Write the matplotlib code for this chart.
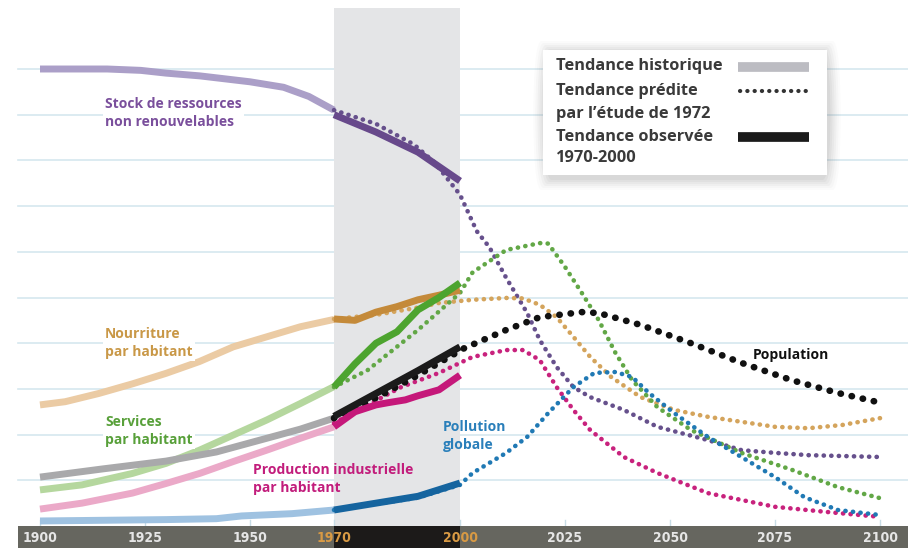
import matplotlib
matplotlib.use("Agg")
import matplotlib.pyplot as plt
from matplotlib.patches import Rectangle, FancyBboxPatch
import numpy as np

# ---------------- data ----------------
# Stock de ressources non renouvelables
res_hist_x = [1900, 1916, 1924, 1930, 1938, 1950, 1958, 1964, 1970]
res_hist_y = [10.0, 10.0, 9.97, 9.91, 9.85, 9.72, 9.60, 9.40, 9.10]
res_obs_x = [1970, 1980, 1990, 2000]
res_obs_y = [9.0, 8.62, 8.18, 7.55]
res_pred_x = [1970, 1980, 1989, 1994, 2000, 2004, 2007, 2011, 2016, 2019, 2023, 2027, 2031, 2039, 2047, 2059, 2067, 2075, 2083, 2100]
res_pred_y = [9.10, 8.80, 8.35, 7.95, 7.25, 6.45, 6.10, 5.43, 4.66, 4.07, 3.48, 3.04, 2.82, 2.54, 2.17, 1.88, 1.66, 1.60, 1.55, 1.51]

# Nourriture par habitant
food_hist_x = [1900, 1906, 1914, 1922, 1930, 1938, 1946, 1954, 1962, 1970]
food_hist_y = [2.65, 2.72, 2.90, 3.11, 3.34, 3.60, 3.92, 4.14, 4.36, 4.52]
food_obs_x = [1970, 1975, 1980, 1985, 1990, 1995, 2000]
food_obs_y = [4.53, 4.50, 4.68, 4.80, 4.95, 5.05, 5.16]
food_pred_x = [1970, 1980, 1990, 1995, 2003, 2011, 2015, 2019, 2023, 2027, 2031, 2036, 2043, 2051, 2059, 2075, 2083, 2091, 2100]
food_pred_y = [4.53, 4.62, 4.78, 4.88, 4.95, 4.99, 4.98, 4.84, 4.57, 4.14, 3.70, 3.26, 2.82, 2.54, 2.39, 2.17, 2.14, 2.21, 2.36]

# Services par habitant
serv_hist_x = [1900, 1910, 1922, 1930, 1938, 1946, 1954, 1962, 1970]
serv_hist_y = [0.79, 0.90, 1.15, 1.37, 1.66, 1.99, 2.32, 2.68, 3.05]
serv_obs_x = [1970, 1975, 1980, 1985, 1990, 1995, 2000]
serv_obs_y = [3.04, 3.55, 4.00, 4.25, 4.73, 5.00, 5.32]
serv_pred_x = [1970, 1978, 1990, 2000, 2003, 2011, 2019, 2021, 2025, 2029, 2033, 2037, 2041, 2047, 2055, 2067, 2079, 2090, 2100]
serv_pred_y = [3.04, 3.41, 4.29, 5.10, 5.55, 6.04, 6.19, 6.18, 5.67, 5.10, 4.51, 3.79, 3.19, 2.60, 2.10, 1.60, 1.23, 0.85, 0.61]

# Population
pop_hist_x = [1900, 1915, 1930, 1942, 1954, 1962, 1970]
pop_hist_y = [1.07, 1.25, 1.42, 1.62, 1.92, 2.12, 2.36]
pop_obs_x = [1970, 1980, 1990, 2000]
pop_obs_y = [2.40, 2.90, 3.40, 3.92]
pop_pred_x = [1970, 1980, 1990, 2001, 2011, 2019, 2029, 2033, 2043, 2055, 2067, 2079, 2090, 2100]
pop_pred_y = [2.36, 2.80, 3.30, 3.89, 4.29, 4.57, 4.68, 4.66, 4.40, 4.00, 3.57, 3.19, 2.91, 2.70]

# Production industrielle par habitant
ind_hist_x = [1900, 1910, 1922, 1930, 1938, 1946, 1954, 1962, 1970]
ind_hist_y = [0.37, 0.50, 0.72, 0.93, 1.15, 1.41, 1.66, 1.92, 2.17]
ind_obs_x = [1970, 1975, 1980, 1983, 1987, 1990, 1995, 2000]
ind_obs_y = [2.17, 2.50, 2.65, 2.70, 2.76, 2.85, 2.98, 3.30]
ind_pred_x = [1970, 1986, 1995, 2003, 2011, 2015, 2019, 2023, 2027, 2031, 2039, 2047, 2059, 2075, 2087, 2100]
ind_pred_y = [2.25, 3.04, 3.35, 3.70, 3.85, 3.85, 3.63, 3.04, 2.54, 2.10, 1.51, 1.16, 0.72, 0.42, 0.31, 0.20]

# Pollution globale
pol_hist_x = [1900, 1930, 1942, 1948, 1960, 1970]
pol_hist_y = [0.11, 0.14, 0.16, 0.22, 0.27, 0.35]
pol_obs_x = [1970, 1980, 1990, 2000]
pol_obs_y = [0.35, 0.50, 0.65, 0.94]
pol_pred_x = [1970, 1990, 2000, 2003, 2011, 2016, 2021, 2027, 2032, 2037, 2041, 2045, 2051, 2059, 2067, 2075, 2082, 2090, 2100]
pol_pred_y = [0.35, 0.62, 0.90, 1.16, 1.60, 1.95, 2.47, 3.04, 3.35, 3.37, 3.26, 2.91, 2.47, 1.95, 1.51, 1.07, 0.63, 0.35, 0.24]

tick_years = [1900, 1925, 1950, 1970, 2000, 2025, 2050, 2075, 2100]
grid_levels = [1, 2, 3, 4, 5, 6, 7, 8, 9, 10]

legend_labels = ["Tendance historique", "Tendance prédite", "par l\u2019étude de 1972",
                 "Tendance observée", "1970-2000"]

# ---------------- figure ----------------
W, H = 908, 548
fig = plt.figure(figsize=(W / 100, H / 100), dpi=100)
ax = fig.add_axes([0, 0, 1, 1])
px_per_year = 4.2
x0 = 1900 - 40 / px_per_year
x1 = 1900 + (W - 40) / px_per_year
ppu = 45.7
ax.set_xlim(x0, x1)
ax.set_ylim((526 - H) / ppu, 526 / ppu)
ax.axis("off")

def px2x(p):
    return x0 + p / px_per_year

def py2y(p):
    return (526 - p) / ppu

# gridlines
for g in grid_levels:
    ax.plot([px2x(18), x1], [g, g], color="#d6e8ef", lw=1.2, zorder=1)

# shaded observation period
ax.add_patch(Rectangle((1970, 0), 30, py2y(8) - 0, facecolor="#e4e5e7",
                       edgecolor="none", zorder=2))

# bottom axis bar
ybot = py2y(H)
ax.add_patch(Rectangle((px2x(18), ybot), x1 - px2x(18), 0 - ybot,
                       facecolor="#66665f", edgecolor="none", zorder=5))
ax.add_patch(Rectangle((1970, ybot), 30, 0 - ybot,
                       facecolor="#1c1a19", edgecolor="none", zorder=6))
for yr in tick_years:
    col = "#d99a44" if yr in (1970, 2000) else "#e6e6e6"
    ax.text(yr, py2y(538), str(yr), ha="center", va="center", color=col,
            fontsize=10, fontweight="bold", family="DejaVu Sans",
            fontstretch="condensed", zorder=7)
    ax.plot([yr, yr], [0, py2y(520)], color="#c9dde6", lw=1, zorder=3)

def hist(x, y, c):
    ax.plot(x, y, color=c, lw=5, solid_capstyle="butt", solid_joinstyle="round", zorder=3)

def obs(x, y, c):
    ax.plot(x, y, color=c, lw=5, solid_capstyle="butt", solid_joinstyle="round", zorder=5)

def pred(x, y, c, lw=3.3, gap=1.6, z=4):
    ax.plot(x, y, color=c, lw=lw, linestyle=(0, (0.05, gap)),
            dash_capstyle="round", zorder=z)

series = [
    (res_hist_x, res_hist_y, "#ab9fc8", res_obs_x, res_obs_y, "#67498b", res_pred_x, res_pred_y, "#66508c"),
    (food_hist_x, food_hist_y, "#ebcba4", food_obs_x, food_obs_y, "#c48a3a", food_pred_x, food_pred_y, "#d4a45c"),
    (serv_hist_x, serv_hist_y, "#b5d79e", serv_obs_x, serv_obs_y, "#4da42f", serv_pred_x, serv_pred_y, "#62a746"),
    (ind_hist_x, ind_hist_y, "#eba9c8", ind_obs_x, ind_obs_y, "#c5187a", ind_pred_x, ind_pred_y, "#c8227d"),
    (pol_hist_x, pol_hist_y, "#9fc2e1", pol_obs_x, pol_obs_y, "#15649f", pol_pred_x, pol_pred_y, "#2079b4"),
    (pop_hist_x, pop_hist_y, "#a9a9ab", pop_obs_x, pop_obs_y, "#1b1b1b", pop_pred_x, pop_pred_y, "#111111"),
]
for hx, hy, hc, ox, oy, oc, qx, qy, qc in series:
    hist(hx, hy, hc)
    if qc == "#111111":
        pred(qx, qy, qc, lw=4.8, gap=1.65, z=4.5)
    else:
        pred(qx, qy, qc)
    obs(ox, oy, oc)

# labels
lab_kw = dict(fontsize=10, fontweight="bold", family="Open Sans", va="center",
              ha="left", linespacing=1.35, zorder=8)
wb = dict(facecolor="white", edgecolor="none", pad=1.5)
ax.text(px2x(105), py2y(113), "Stock de ressources\nnon renouvelables",
        color="#7a4f9c", bbox=wb, **lab_kw)
ax.text(px2x(105), py2y(343), "Nourriture\npar habitant",
        color="#c99847", bbox=wb, **lab_kw)
ax.text(px2x(105), py2y(431), "Services\npar habitant",
        color="#58a03a", bbox=wb, **lab_kw)
ax.text(px2x(253), py2y(479), "Production industrielle\npar habitant",
        color="#c21d7c", **lab_kw)
ax.text(px2x(443), py2y(436), "Pollution\nglobale",
        color="#2a7fba", **lab_kw)
ax.text(px2x(753), py2y(355), "Population", color="#111111", **lab_kw)

# legend box with soft shadow
bx0, by0, bx1, by1 = 543, 50, 827, 175
for i, a in enumerate([0.03, 0.04, 0.05, 0.06, 0.07, 0.08]):
    s = 12 - 2 * i
    ax.add_patch(FancyBboxPatch((px2x(bx0 - s + 2), py2y(by1 + s + 3)),
                                (bx1 - bx0 + 2 * s) / px_per_year,
                                (by1 - by0 + 2 * s) / ppu,
                                boxstyle="round,pad=0,rounding_size=2",
                                facecolor="#808080", edgecolor="none",
                                alpha=a, zorder=9))
ax.add_patch(Rectangle((px2x(bx0), py2y(by1)), (bx1 - bx0) / px_per_year,
                       (by1 - by0) / ppu, facecolor="white", edgecolor="none",
                       zorder=10))
leg_y = [66, 91, 114, 137, 158]
for t, yy in zip(legend_labels, leg_y):
    ax.text(px2x(556), py2y(yy), t, fontsize=11.8, fontweight="bold",
            family="Open Sans", color="#3a3a3a", va="center", ha="left", zorder=11)
ax.plot([px2x(738), px2x(809)], [py2y(67), py2y(67)], color="#bcbcc2", lw=7,
        solid_capstyle="butt", zorder=11)
ax.plot([px2x(740), px2x(807)], [py2y(91), py2y(91)], color="#333333", lw=3,
        linestyle=(0, (0.05, 1.7)), dash_capstyle="round", zorder=11)
ax.plot([px2x(738), px2x(809)], [py2y(137), py2y(137)], color="#1a1a1a", lw=7,
        solid_capstyle="butt", zorder=11)

fig.savefig("out.png", dpi=100)
